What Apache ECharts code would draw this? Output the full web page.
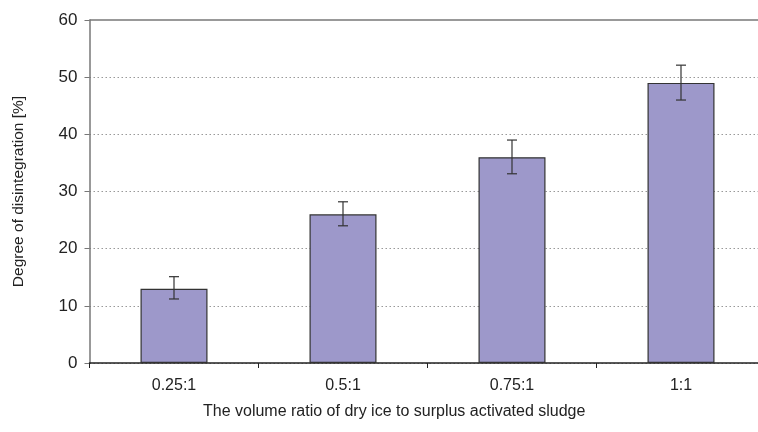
<!DOCTYPE html>
<html><head><meta charset="utf-8">
<script src="https://cdn.jsdelivr.net/npm/echarts@6/dist/echarts.min.js"></script>
<style>html,body{margin:0;padding:0;background:#fff}#c{width:758px;height:432px}</style>
</head><body><div id="c"></div>
<script>
var categories = ['0.25:1', '0.5:1', '0.75:1', '1:1'];
var values = [13, 26, 36, 49];
var errLow = [11.2, 24, 33.1, 46];
var errHigh = [15.1, 28.2, 39, 52.1];
var yTicks = [0, 10, 20, 30, 40, 50, 60];

var chart = echarts.init(document.getElementById('c'), null, {renderer: 'canvas'});
var font = '"Liberation Sans", Arial, sans-serif';
chart.setOption({
  animation: false,
  grid: {left: 89.5, top: 20, width: 676, height: 343, containLabel: false, outerBoundsMode: 'none'},
  xAxis: {
    type: 'category', data: categories,
    axisLine: {lineStyle: {color: '#222', width: 1.5}},
    axisTick: {show: true, length: 5, lineStyle: {color: '#222'}},
    axisLabel: {color: '#222', fontSize: 16, fontFamily: font, margin: 15}
  },
  yAxis: {
    type: 'value', min: yTicks[0], max: yTicks[yTicks.length - 1], interval: 10,
    name: 'Degree of disintegration [%]', nameLocation: 'middle', nameGap: 63,
    nameTextStyle: {color: '#222', fontSize: 15.5, fontFamily: font},
    axisLine: {show: true, lineStyle: {color: '#777', width: 1.5}},
    axisTick: {show: true, length: 5, lineStyle: {color: '#777'}},
    axisLabel: {color: '#222', fontSize: 17, fontFamily: font, margin: 12},
    splitLine: {show: true, lineStyle: {color: '#999', type: [1.5, 2.5], width: 1.2}}
  },
  graphic: [
    {type: 'line', shape: {x1: 89.5, y1: 20, x2: 758, y2: 20}, style: {stroke: '#777', lineWidth: 1.5}},
    {type: 'text', left: 203, top: 404, style: {text: 'The volume ratio of dry ice to surplus activated sludge', fill: '#222', font: '16px "Liberation Sans", Arial, sans-serif'}}
  ],
  series: [
    {
      type: 'bar', data: values, barWidth: 67,
      itemStyle: {color: '#9d98ca', borderColor: '#333', borderWidth: 1.2}
    },
    {
      type: 'custom', z: 10,
      data: categories.map(function (c, i) { return [i, errLow[i], errHigh[i]]; }),
      renderItem: function (params, api) {
        var lo = api.coord([api.value(0), api.value(1)]);
        var hi = api.coord([api.value(0), api.value(2)]);
        var hw = 5;
        var st = {stroke: '#333', lineWidth: 1.2};
        return {type: 'group', children: [
          {type: 'line', shape: {x1: hi[0], y1: hi[1], x2: lo[0], y2: lo[1]}, style: st},
          {type: 'line', shape: {x1: hi[0] - hw, y1: hi[1], x2: hi[0] + hw, y2: hi[1]}, style: st},
          {type: 'line', shape: {x1: lo[0] - hw, y1: lo[1], x2: lo[0] + hw, y2: lo[1]}, style: st}
        ]};
      }
    }
  ]
});
</script></body></html>
